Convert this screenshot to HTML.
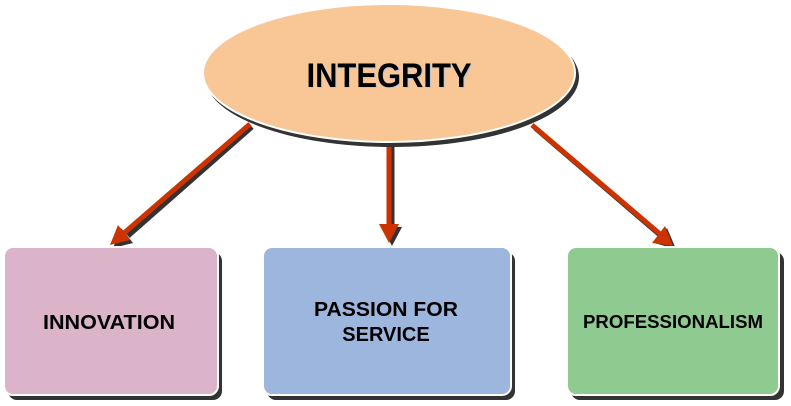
<!DOCTYPE html>
<html>
<head>
<meta charset="utf-8">
<style>
  html, body { margin: 0; padding: 0; background: #ffffff; }
  svg { display: block; }
  text { font-family: "Liberation Sans", Arial, sans-serif; font-weight: bold; }
</style>
</head>
<body>
<svg width="791" height="406" viewBox="0 0 791 406" xmlns="http://www.w3.org/2000/svg">
  <rect x="0" y="0" width="791" height="406" fill="#ffffff"/>

  <!-- Arrow shadows -->
  <g stroke="#333333" fill="#333333">
    <line x1="252" y1="127" x2="128" y2="236" stroke-width="5"/>
    <polygon points="113,248 121,228 133,243" stroke="none"/>
    <line x1="392" y1="146" x2="392" y2="228" stroke-width="5"/>
    <polygon points="392,246 382,227 402,227" stroke="none"/>
    <line x1="535" y1="128" x2="661" y2="236" stroke-width="5"/>
    <polygon points="676,249 654,243 667,228" stroke="none"/>
  </g>

  <!-- Arrows -->
  <g stroke="#cc3300" fill="#cc3300">
    <line x1="250" y1="124" x2="124" y2="233" stroke-width="5"/>
    <polygon points="110,245 118,225 130,240" stroke="none"/>
    <line x1="389" y1="143" x2="389" y2="226" stroke-width="5"/>
    <polygon points="389,243 379,224 399,224" stroke="none"/>
    <line x1="532" y1="125" x2="660" y2="234" stroke-width="5"/>
    <polygon points="673,246 652,243 665,226" stroke="none"/>
  </g>

  <!-- Ellipse -->
  <ellipse cx="392" cy="77" rx="187" ry="70" fill="#333333"/>
  <ellipse cx="389" cy="73" rx="186" ry="69" fill="#f9c796" stroke="#ffffff" stroke-width="2"/>
  <text x="390" y="88" font-size="34" text-anchor="middle" fill="#b8c4d8" textLength="165" lengthAdjust="spacingAndGlyphs">INTEGRITY</text>
  <text x="389" y="87" font-size="34" text-anchor="middle" fill="#000000" textLength="165" lengthAdjust="spacingAndGlyphs">INTEGRITY</text>

  <!-- Box shadows -->
  <rect x="8" y="252" width="214" height="148" rx="9" fill="#333333"/>
  <rect x="267" y="252" width="248" height="148" rx="9" fill="#333333"/>
  <rect x="571" y="252" width="213" height="148" rx="9" fill="#333333"/>

  <!-- Boxes -->
  <rect x="4" y="247" width="214" height="148" rx="9" fill="#dbb4ca" stroke="#ffffff" stroke-width="2"/>
  <rect x="263" y="247" width="248" height="148" rx="9" fill="#9db6dd" stroke="#ffffff" stroke-width="2"/>
  <rect x="567" y="247" width="212" height="148" rx="9" fill="#8fca90" stroke="#ffffff" stroke-width="2"/>

  <!-- Box labels -->
  <text x="109" y="329" font-size="20.5" text-anchor="middle" fill="#000000" textLength="132" lengthAdjust="spacingAndGlyphs">INNOVATION</text>
  <text x="386" y="316" font-size="20" text-anchor="middle" fill="#000000" textLength="144" lengthAdjust="spacingAndGlyphs">PASSION FOR</text>
  <text x="386" y="341" font-size="20" text-anchor="middle" fill="#000000">SERVICE</text>
  <text x="673" y="328" font-size="18" text-anchor="middle" fill="#000000" textLength="180" lengthAdjust="spacingAndGlyphs">PROFESSIONALISM</text>
</svg>
</body>
</html>
